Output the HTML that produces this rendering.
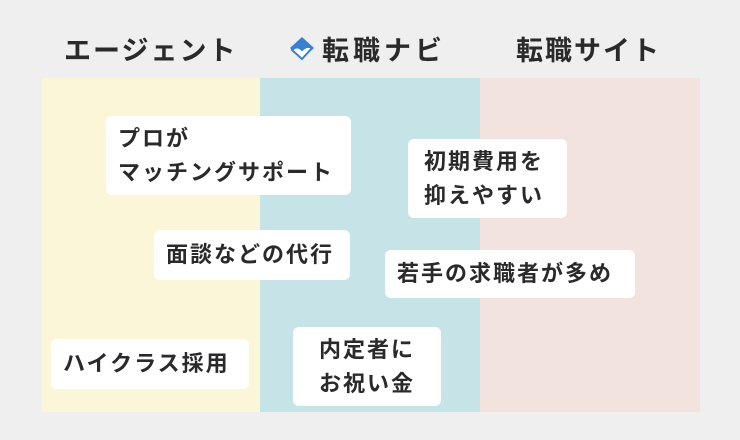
<!DOCTYPE html>
<html><head><meta charset="utf-8"><style>
body{margin:0;width:740px;height:440px;background:#efefef;position:relative;overflow:hidden;font-family:"Liberation Sans","Noto Sans CJK JP",sans-serif;color:#2a2a2a}
.col{position:absolute;top:78px;height:334px}
.h{position:absolute;top:29px;font-size:27px;font-weight:bold;letter-spacing:2px;white-space:nowrap}
.b{position:absolute;background:#fff;border-radius:6px;font-size:22px;font-weight:bold;line-height:34px;display:flex;align-items:center;padding-left:12px;box-sizing:border-box;white-space:nowrap;letter-spacing:2px}
</style></head><body>
<div class="col" style="left:42px;width:218px;background:#fcf6d8"></div>
<div class="col" style="left:260px;width:220px;background:#c6e3e8"></div>
<div class="col" style="left:480px;width:220px;background:#f2e3df"></div>
<div class="h" style="left:64px">エージェント</div>
<svg style="position:absolute;left:287px;top:33px" width="30" height="30" viewBox="0 0 30 30"><path d="M3 15 L15 4 L27 15 L15 26 Z" fill="#3b7fd0"/><path d="M5 17 Q10 12 15 17 Q20 12 25 15 L15 26 Z" fill="#fff" stroke="#3b7fd0" stroke-width="2"/></svg>
<div class="h" style="left:322px;letter-spacing:4px">転職ナビ</div>
<div class="h" style="left:516px">転職サイト</div>
<div class="b" style="left:106px;top:116px;width:245px;height:79px">プロが<br>マッチングサポート</div>
<div class="b" style="left:154px;top:230px;width:196px;height:50px">面談などの代行</div>
<div class="b" style="left:408px;top:139px;width:159px;height:79px;padding-left:16px">初期費用を<br>抑えやすい</div>
<div class="b" style="left:385px;top:250px;width:250px;height:48px">若手の求職者が多め</div>
<div class="b" style="left:51px;top:339px;width:198px;height:50px">ハイクラス採用</div>
<div class="b" style="left:293px;top:327px;width:148px;height:79px;padding-left:26px">内定者に<br>お祝い金</div>
</body></html>
